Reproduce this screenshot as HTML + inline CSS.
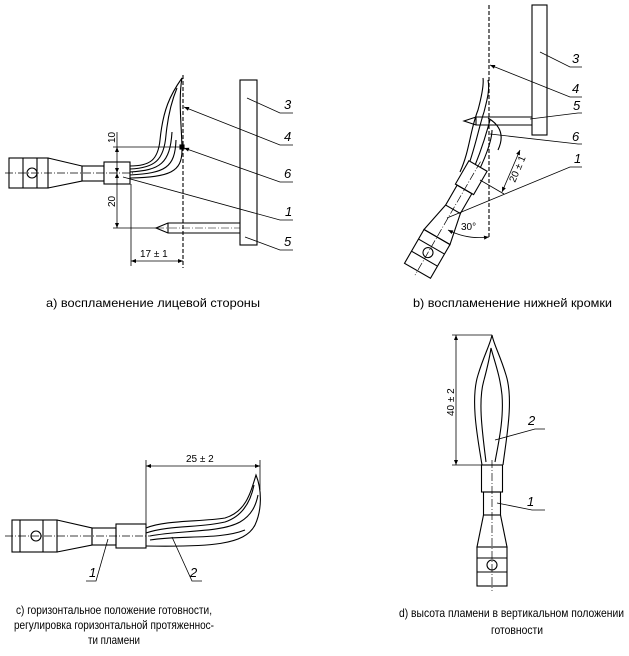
<!DOCTYPE html>
<html><head><meta charset="utf-8"><style>
html,body{margin:0;padding:0;background:#fff;}
svg{display:block;}
text{font-family:"Liberation Sans",sans-serif;fill:#000;}
.cap{font-size:12px;}
.num{font-size:13px;font-style:italic;}
.dim{font-size:10px;}
</style></head><body>
<svg width="629" height="656" viewBox="0 0 629 656" xmlns="http://www.w3.org/2000/svg">
<defs>
<marker id="ar" viewBox="0 0 10 10" refX="10" refY="5" markerWidth="7" markerHeight="5" orient="auto-start-reverse" markerUnits="userSpaceOnUse"><path d="M0,1 L10,5 L0,9 z" fill="#000"/></marker>
<g id="burner" fill="none" stroke="#000" stroke-width="1.1">
<rect x="-10.5" y="0" width="21" height="27" fill="#fff"/>
<rect x="-8.5" y="27" width="17" height="23"/>
<path d="M-8.5,50 L-15,82 L15,82 L8.5,50"/>
<rect x="-15" y="82" width="30" height="39"/>
<line x1="-15" y1="93" x2="15" y2="93"/>
<line x1="-15" y1="107" x2="15" y2="107"/>
<circle cx="0" cy="100" r="5"/>
<line x1="0" y1="-5" x2="0" y2="126" stroke-width="0.7" stroke-dasharray="8,2,1,2"/>
</g>
</defs>
<g fill="none" stroke="#000" stroke-width="1.1">
<!-- PANEL A -->
<rect x="9" y="158" width="39" height="30"/>
<line x1="23" y1="158" x2="23" y2="188"/><line x1="37" y1="158" x2="37" y2="188"/>
<circle cx="32" cy="173" r="5"/>
<path d="M48,158 L82,166 L82,181 L48,188"/>
<rect x="82" y="166" width="22" height="15"/>
<rect x="104" y="162" width="26" height="22" fill="#fff"/>
<line x1="5" y1="173" x2="135" y2="173" stroke-width="0.7" stroke-dasharray="8,2,1,2"/>
<line x1="183" y1="75" x2="183" y2="268" stroke-dasharray="4,2"/>
<path d="M130,166 C150,166 158,160 160,140 C163,110 170,95 182,78 C178,100 182,130 182,150 C182,172 170,177 130,178"/>
<path d="M130,169 C155,168 164,160 166,135 C168,115 172,100 177,88"/>
<path d="M130,172 C160,170 170,164 172,132"/>
<path d="M130,175 C165,173 175,168 176,140"/>
<rect x="240" y="80" width="17" height="165"/>
<path d="M240,223 L168,223 L156,228 L168,233 L240,233"/>
<line x1="168" y1="223" x2="168" y2="233"/>
<line x1="156" y1="228" x2="240" y2="228" stroke-width="0.6" stroke-dasharray="8,2,1,2"/>
<line x1="113" y1="147" x2="183" y2="147" stroke-width="0.8"/>
<line x1="113" y1="228" x2="156" y2="228" stroke-width="0.8"/>
<line x1="117" y1="132" x2="117" y2="147" stroke-width="0.8"/>
<line x1="117" y1="147" x2="117" y2="173" stroke-width="0.8" marker-start="url(#ar)" marker-end="url(#ar)"/>
<line x1="117" y1="173" x2="117" y2="228" stroke-width="0.8" marker-start="url(#ar)" marker-end="url(#ar)"/>
<line x1="131" y1="184" x2="131" y2="266" stroke-width="0.8"/>
<line x1="131" y1="261" x2="183" y2="261" stroke-width="0.8" marker-start="url(#ar)" marker-end="url(#ar)"/>
<rect x="180" y="145" width="4" height="4" fill="#000"/>
<g stroke-width="0.8">
<path d="M247,98 L280,113 L293,113"/>
<path d="M184,107 L280,145 L293,145" marker-start="url(#ar)"/>
<path d="M184,148 L280,182 L293,182" marker-start="url(#ar)"/>
<path d="M123,177 L280,220 L293,220"/>
<path d="M245,237 L280,250 L293,250"/>
</g>
<!-- PANEL B -->
<line x1="489" y1="5" x2="489" y2="237" stroke-dasharray="4,2"/>
<rect x="532" y="5" width="15" height="130"/>
<path d="M532,117 L476,117 L464,121 L476,125 L532,125"/>
<line x1="476" y1="117" x2="476" y2="125"/>
<path d="M460,172 C470,150 470,130 478,110 C482,95 484,85 483,78"/>
<path d="M465,175 C475,150 478,130 484,112 C487,100 490,90 488,80"/>
<path d="M470,177 C480,155 486,135 490,120"/>
<path d="M474,180 C485,160 492,140 492,130"/>
<path d="M488,118 C500,125 505,135 498,150"/>
<use href="#burner" transform="translate(478,166) rotate(30)"/>
<line x1="502" y1="192" x2="520" y2="150" stroke-width="0.8" marker-start="url(#ar)" marker-end="url(#ar)"/>
<line x1="480" y1="180" x2="504" y2="194" stroke-width="0.8"/>
<path d="M448,230 A 70 70 0 0 0 489,237" stroke-width="0.8" marker-start="url(#ar)" marker-end="url(#ar)"/>
<g stroke-width="0.8">
<path d="M540,52 L570,67 L582,67"/>
<path d="M490,65 L570,97 L582,97" marker-start="url(#ar)"/>
<path d="M530,119 L578,113 L582,113"/>
<path d="M490,134 L578,144 L582,144"/>
<path d="M447,218 L570,167 L582,167"/>
</g>
<!-- PANEL C -->
<rect x="12" y="520" width="45" height="32"/>
<line x1="20" y1="520" x2="20" y2="552"/><line x1="43" y1="520" x2="43" y2="552"/>
<circle cx="36" cy="536" r="5"/>
<path d="M57,520 L92,528 L92,545 L57,552"/>
<rect x="92" y="528" width="24" height="17"/>
<rect x="116" y="524" width="30" height="24"/>
<line x1="5" y1="536" x2="150" y2="536" stroke-width="0.7" stroke-dasharray="8,2,1,2"/>
<path d="M146,528 C165,520 200,522 225,518 C245,512 250,495 256,475 C262,490 262,510 255,525 C245,545 210,547 146,546"/>
<path d="M146,533 C170,525 200,528 225,522 C240,517 250,505 254,485"/>
<path d="M150,536 C180,530 220,533 240,522 C252,515 256,505 258,495"/>
<path d="M150,540 C180,535 220,540 245,530"/>
<line x1="146" y1="460" x2="146" y2="524" stroke-width="0.8"/>
<line x1="260" y1="460" x2="260" y2="490" stroke-width="0.8"/>
<line x1="146" y1="466" x2="260" y2="466" stroke-width="0.8" marker-start="url(#ar)" marker-end="url(#ar)"/>
<g stroke-width="0.8">
<path d="M108,539 L96,581 L86,581"/>
<path d="M172,537 L192,581 L202,581"/>
</g>
<!-- PANEL D -->
<use href="#burner" transform="translate(492,465)"/>
<path d="M482,465 C478,440 470,400 478,375 C484,355 490,345 492,335 C494,345 500,355 506,375 C514,400 506,440 503,465"/>
<path d="M486,462 C482,430 478,400 484,380 C488,365 490,355 491,348 C494,360 500,375 502,395 C504,420 498,445 495,462"/>
<line x1="452" y1="335" x2="492" y2="335" stroke-width="0.8"/>
<line x1="452" y1="465" x2="482" y2="465" stroke-width="0.8"/>
<line x1="456" y1="335" x2="456" y2="465" stroke-width="0.8" marker-start="url(#ar)" marker-end="url(#ar)"/>
<g stroke-width="0.8">
<path d="M495,440 L535,429 L545,429"/>
<path d="M497,503 L532,510 L545,510"/>
</g>
</g>
<text class="num" x="284" y="109">3</text>
<text class="num" x="284" y="141">4</text>
<text class="num" x="284" y="178">6</text>
<text class="num" x="285" y="216">1</text>
<text class="num" x="284" y="246">5</text>
<text class="dim" x="140" y="257">17 ± 1</text>
<text class="dim" transform="translate(115,143) rotate(-90)">10</text>
<text class="dim" transform="translate(115,207) rotate(-90)">20</text>
<text class="num" x="572" y="63">3</text>
<text class="num" x="572" y="93">4</text>
<text class="num" x="573" y="110">5</text>
<text class="num" x="572" y="141">6</text>
<text class="num" x="574" y="163">1</text>
<text class="dim" transform="translate(515,183) rotate(-67)">20 ± 1</text>
<text class="dim" x="461" y="230">30°</text>
<text class="num" x="89" y="577">1</text>
<text class="num" x="190" y="577">2</text>
<text class="dim" x="186" y="462">25 ± 2</text>
<text class="num" x="528" y="425">2</text>
<text class="num" x="527" y="506">1</text>
<text class="dim" transform="translate(454,416) rotate(-90)">40 ± 2</text>
<text class="cap" x="46" y="307" textLength="214" lengthAdjust="spacingAndGlyphs">a)  воспламенение лицевой стороны</text>
<text class="cap" x="413" y="307" textLength="199" lengthAdjust="spacingAndGlyphs">b)  воспламенение нижней кромки</text>
<text class="cap" x="16" y="614" textLength="196" lengthAdjust="spacingAndGlyphs">c)  горизонтальное положение готовности,</text>
<text class="cap" x="14" y="629" textLength="200" lengthAdjust="spacingAndGlyphs">регулировка горизонтальной протяженнос-</text>
<text class="cap" x="88" y="644" textLength="52" lengthAdjust="spacingAndGlyphs">ти пламени</text>
<text class="cap" x="399" y="617" textLength="225" lengthAdjust="spacingAndGlyphs">d)  высота пламени в вертикальном положении</text>
<text class="cap" x="491" y="634" textLength="52" lengthAdjust="spacingAndGlyphs">готовности</text>
</svg>
</body></html>
